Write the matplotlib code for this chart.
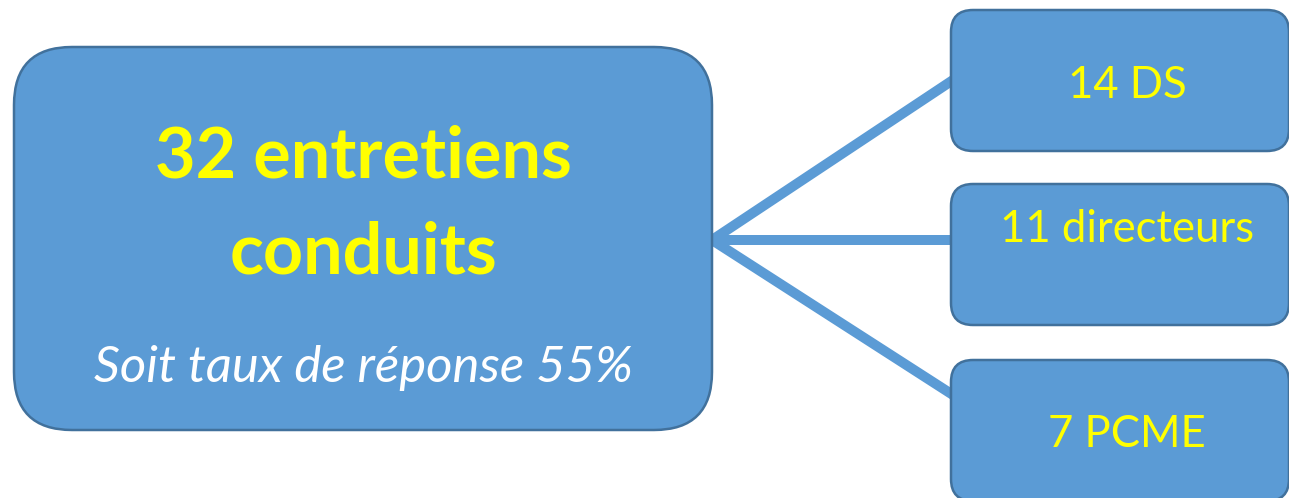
import matplotlib
matplotlib.use("Agg")
import matplotlib.pyplot as plt
from matplotlib.patches import FancyBboxPatch

# data
TOTAL = 32
RESPONSE_RATE = 55
BRANCH_COUNTS = [14, 11, 7]
BRANCH_LABELS = ["DS", "directeurs", "PCME"]

FILL, EDGE = "#5b9bd5", "#41719c"
YELLOW, WHITE = "#ffff00", "#ffffff"
W, H = 1289, 498

plt.rcParams["font.family"] = ["Lato", "DejaVu Sans"]

fig = plt.figure(figsize=(W / 100, H / 100), dpi=100)
ax = fig.add_axes((0, 0, 1, 1))
ax.set_xlim(0, W)
ax.set_ylim(H, 0)
ax.axis("off")

# main box (pixel layout)
main = dict(x=14, y=47, w=698, h=383, r=58)
hub = (main["x"] + main["w"], 240)
ax.add_patch(FancyBboxPatch((main["x"], main["y"]), main["w"], main["h"],
                            boxstyle=f"round,pad=0,rounding_size={main['r']}",
                            facecolor=FILL, edgecolor=EDGE, linewidth=1.8, zorder=3))
cx = main["x"] + main["w"] / 2
ax.text(cx, 177, f"{TOTAL} entretiens", color=YELLOW, fontsize=50.5,
        fontweight="bold", ha="center", va="baseline", zorder=4)
ax.text(cx, 273, "conduits", color=YELLOW, fontsize=50.5,
        fontweight="bold", ha="center", va="baseline", zorder=4)
ax.text(cx, 382, f"Soit taux de réponse {RESPONSE_RATE}%", color=WHITE,
        fontsize=36.6, fontstyle="italic", ha="center", va="baseline", zorder=4)

# branch boxes
box_x, box_w, box_h, box_r = 951, 338, 141, 22
box_tops = [10, 184, 360]
attach_y = [80, 240, 395]
text_base = [98, 242, 447]
for count, label, top, ay, base in zip(BRANCH_COUNTS, BRANCH_LABELS,
                                        box_tops, attach_y, text_base):
    ax.plot([hub[0], box_x + 2], [hub[1], ay], color=FILL, linewidth=7.2,
            solid_capstyle="butt", zorder=2)
    ax.add_patch(FancyBboxPatch((box_x, top), box_w, box_h,
                                boxstyle=f"round,pad=0,rounding_size={box_r}",
                                facecolor=FILL, edgecolor=EDGE, linewidth=1.8,
                                zorder=3))
    ax.text(1127, base, f"{count} {label}", color=YELLOW, fontsize=31.4,
            ha="center", va="baseline", zorder=4)

fig.savefig("out.png", dpi=100, facecolor="white")
